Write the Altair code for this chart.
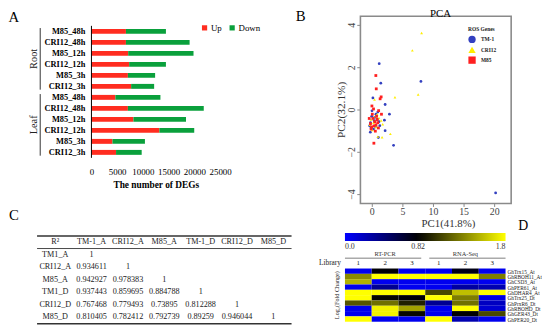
import altair as alt
import pandas as pd

SERIF = "Liberation Serif"
RED = "#FF2D20"
GREEN = "#0AA03C"

# ---------------- data ----------------
# Panel A: DEGs
a_tissue = ["Root"] * 6 + ["Leaf"] * 6
a_sample = ["M85_48h", "CRI12_48h", "M85_12h", "CRI12_12h", "M85_3h", "CRI12_3h"] * 2
a_up = [6700, 6700, 7140, 7330, 7080, 7710, 4650, 7080, 8160, 13200, 4080, 4780]
a_down = [7770, 12370, 12690, 7140, 5290, 4470, 8750, 14740, 10210, 6770, 6310, 4980]
a_ticks = [0, 5000, 10000, 15000, 20000, 25000]

# Panel B: PCA
b_groups = ["TM-1", "CRI12", "M85"]
tm1_x = [1.13, 1.39, 7.95, 0.10, 2.10, 2.80, 1.98, 1.23, 2.10, 3.48, 0.99, -0.32, -0.05, 20.16,
         0.30, -0.30, 0.55, 0.80, -0.10, 0.60, 0.20, 0.90, -0.45, 0.40, 1.10, -0.20]
tm1_y = [2.19, 1.27, 1.35, 0.57, 0.26, -0.20, -0.48, -0.74, -0.98, -1.67, -1.30, -1.05, -0.04, -3.92,
         -0.50, -0.60, -0.80, -0.45, -0.30, -0.20, -0.90, -0.10, -0.75, -0.35, -0.55, -0.85]
cri_x = [8.06, 6.55, 7.50, 3.70, 0.37, 2.95, 1.60, 0.90, 1.70, 1.45, 1.10, 0.20, -0.20, 0.60, 0.00,
         0.80, -0.40, 0.50]
cri_y = [3.64, 2.82, 0.73, 0.60, 0.50, -1.13, -1.29, -1.26, -0.67, -0.50, -0.38, -0.60, -0.45, -0.80,
         -0.95, -0.20, -0.70, -0.30]
m85_x = [0.58, 0.65, 1.45, 1.28, -0.06, 0.26, 1.00, 1.04, 1.50, 0.10, 0.40, -0.30, 0.70, -0.20, 0.30,
         0.90, -0.50, 0.00, 0.50, 0.20, -0.10, 0.80, 0.60]
m85_y = [1.63, 1.00, 0.62, 0.53, 0.19, -1.57, -0.85, -0.03, -0.20, -0.40, -0.55, -0.65, -0.30, -0.90,
         -0.75, -0.60, -0.40, -0.20, -1.00, 0.05, -0.80, -0.45, -0.70]
b_xticks = [0, 5, 10, 15, 20]
b_yticks = [-4, -2, 0, 2, 4]

# Panel C: correlation table
c_header = ["R²", "TM-1_A", "CRI12_A", "M85_A", "TM-1_D", "CRI12_D", "M85_D"]
c_rows = ["TM1_A", "CRI12_A", "M85_A", "TM1_D", "CRI12_D", "M85_D"]
c_values = [
    [1],
    [0.934611, 1],
    [0.942927, 0.978383, 1],
    [0.937443, 0.859695, 0.884788, 1],
    [0.767468, 0.779493, 0.73895, 0.812288, 1],
    [0.810405, 0.782412, 0.792739, 0.89259, 0.946044, 1],
]

# Panel D: heatmap
d_genes = ["GhTrx15_At", "GhRBOH11_At", "GhCSD3_At", "GhPER61_At", "GhDHAR4_At",
           "GhTrx25_Dt", "GhPrxR6_Dt", "GhRBOHD_Dt", "GhGER43_Dt", "GhPER20_Dt"]
d_cols = ["1", "2", "3", "1", "2", "3"]
d_groups = ["RT-PCR", "RNA-Seq"]
d_values = [
    [0.05, 0.80, 0.05, 0.05, 0.75, 0.05],
    [1.35, 1.80, 1.80, 1.80, 1.80, 1.30],
    [1.50, 0.05, 0.05, 0.05, 0.05, 0.05],
    [0.05, 0.35, 0.05, 0.05, 0.30, 0.25],
    [1.80, 1.80, 1.80, 1.10, 1.55, 1.80],
    [1.80, 0.85, 0.80, 1.80, 1.30, 0.10],
    [1.15, 1.25, 0.95, 0.35, 1.25, 0.20],
    [0.05, 1.75, 1.45, 0.05, 1.80, 0.15],
    [0.05, 1.75, 0.85, 0.05, 0.82, 1.10],
    [1.80, 0.05, 0.05, 1.80, 0.25, 0.05],
]
d_legend = [0.0, 0.82, 1.8]

# ---------------- geometry (chart coords = page - 16) ----------------
W, H = 534, 315


def P(v):
    return v - 16


A_XR = [P(92.7), P(223.3)]
A_YR = [P(18.7), P(162.7)]
B_XR = [P(365.7), P(518.7)]
B_YR = [P(204), P(14)]
B_XD = [-1.94, 22.7]
B_YD = [-4.42, 4.43]
C_XR = [P(37.5), P(295.8)]
C_YR = [P(237), P(326)]
D_XR = [P(350), P(513)]
D_YR = [P(270), P(324)]


def label(text, x, y, size=14, weight="normal", angle=0, color="black", align="center"):
    return alt.Chart(pd.DataFrame({"t": [text]})).mark_text(
        font=SERIF, fontSize=size, fontWeight=weight, angle=angle, color=color,
        align=align, baseline="middle"
    ).encode(x=alt.value(P(x)), y=alt.value(P(y)), text="t:N")


# ---------------- Panel A ----------------
rowsA = []
for i, (s, u, d) in enumerate(zip(a_sample, a_up, a_down)):
    rowsA.append({"idx": i, "type": "Up", "start": 0, "end": u})
    rowsA.append({"idx": i, "type": "Down", "start": u, "end": u + d})
dfA = pd.DataFrame(rowsA)

a_xs = alt.Scale(domain=[0, 25000], range=A_XR, nice=False, zero=False)
a_ys = alt.Scale(domain=[-0.5, len(a_sample) - 0.5], range=A_YR, nice=False, zero=False)

barsA = alt.Chart(dfA).mark_bar(size=5, orient="horizontal").encode(
    x=alt.X("start:Q", scale=a_xs, stack=None, axis=alt.Axis(
        orient="bottom", offset=A_YR[1] - H, values=a_ticks, format="d", ticks=False,
        domain=False, grid=False, labelFont=SERIF, labelFontSize=9, labelColor="black",
        labelPadding=5, labelFlush=False, title="The number of DEGs", titleFont=SERIF,
        titleFontSize=9.5, titleFontWeight="bold", titleColor="black", titlePadding=3)),
    x2="end:Q",
    y=alt.Y("idx:Q", scale=a_ys, axis=None),
    color=alt.Color("type:N", scale=alt.Scale(domain=["Up", "Down"], range=[RED, GREEN]),
                    legend=alt.Legend(orient="none", legendX=P(203), legendY=P(21),
                                      direction="horizontal", title=None, symbolType="square",
                                      symbolSize=28, symbolStrokeWidth=0, labelFont=SERIF,
                                      labelFontSize=9, labelColor="black", columnPadding=6,
                                      labelOffset=2)),
)
dfAl = pd.DataFrame({"idx": list(range(len(a_sample))), "sample": a_sample})
labA = alt.Chart(dfAl).mark_text(font=SERIF, fontSize=8.5, fontWeight="bold", color="black",
                                 align="right", baseline="middle").encode(
    x=alt.value(P(86.5)), y=alt.Y("idx:Q", scale=a_ys, axis=None), text="sample:N")
axA = alt.Chart(pd.DataFrame({"y0": [-0.5], "y1": [len(a_sample) - 0.5]})).mark_rule(
    color="black", strokeWidth=1).encode(
    x=alt.value(P(92.7)), y=alt.Y("y0:Q", scale=a_ys, axis=None), y2="y1:Q")

tissues = []
for t in ["Root", "Leaf"]:
    idxs = [i for i, v in enumerate(a_tissue) if v == t]
    tissues.append({"tissue": t, "y0": idxs[0] - 0.3, "y1": idxs[-1] + 0.3,
                    "mid": (idxs[0] + idxs[-1]) / 2})
dfT = pd.DataFrame(tissues)
brA = alt.Chart(dfT).mark_rule(color="#333", strokeWidth=1).encode(
    x=alt.value(P(40.7)), y=alt.Y("y0:Q", scale=a_ys, axis=None), y2="y1:Q")
tA = alt.Chart(dfT).mark_text(angle=270, font=SERIF, fontSize=10.5, color="#222",
                              baseline="middle").encode(
    x=alt.value(P(34.5)), y=alt.Y("mid:Q", scale=a_ys, axis=None), text="tissue:N")
panelA = alt.layer(barsA, axA, labA, brA, tA)

# ---------------- Panel B ----------------
dfB = pd.concat([
    pd.DataFrame({"geno": "TM-1", "pc1": tm1_x, "pc2": tm1_y}),
    pd.DataFrame({"geno": "CRI12", "pc1": cri_x, "pc2": cri_y}),
    pd.DataFrame({"geno": "M85", "pc1": m85_x, "pc2": m85_y}),
], ignore_index=True)
b_xs = alt.Scale(domain=B_XD, range=B_XR, nice=False, zero=False)
b_ys = alt.Scale(domain=B_YD, range=B_YR, nice=False, zero=False)
legB = alt.Legend(orient="none", legendX=P(475), legendY=P(25), title="ROS Genes",
                  titleFont=SERIF, titleFontSize=5.5, titleFontWeight="bold", titleColor="#222",
                  labelFont=SERIF, labelFontSize=5.5, labelFontWeight="bold", labelColor="#222",
                  symbolSize=55, symbolStrokeWidth=0, rowPadding=2.5, labelOffset=5,
                  titlePadding=3)
ptsB = alt.Chart(dfB).mark_point(filled=True, size=8, opacity=1).encode(
    x=alt.X("pc1:Q", scale=b_xs, axis=None),
    y=alt.Y("pc2:Q", scale=b_ys, axis=None),
    color=alt.Color("geno:N", scale=alt.Scale(domain=b_groups,
                                              range=["#3340C0", "#FFEE00", "#FF2020"]),
                    legend=legB),
    shape=alt.Shape("geno:N", scale=alt.Scale(domain=b_groups,
                                              range=["circle", "triangle-up", "square"]),
                    legend=legB),
)
frameB = alt.Chart(pd.DataFrame({"x0": [B_XD[0]], "x1": [B_XD[1]], "y0": [B_YD[0]],
                                 "y1": [B_YD[1]]})).mark_rect(
    fillOpacity=0, stroke="#8a8a8a", strokeWidth=1.6).encode(
    x=alt.X("x0:Q", scale=b_xs, axis=None), x2="x1:Q",
    y=alt.Y("y0:Q", scale=b_ys, axis=None), y2="y1:Q")
dfBx = pd.DataFrame({"v": b_xticks})
dfBy = pd.DataFrame({"v": b_yticks})
xtB = alt.Chart(dfBx).mark_rule(color="#888", strokeWidth=1).encode(
    x=alt.X("v:Q", scale=b_xs, axis=None), y=alt.value(P(204.5)), y2=alt.value(P(207.5)))
xlB = alt.Chart(dfBx).mark_text(font=SERIF, fontSize=10, color="#444",
                                baseline="middle").encode(
    x=alt.X("v:Q", scale=b_xs, axis=None), y=alt.value(P(212.5)), text="v:Q")
ytB = alt.Chart(dfBy).mark_rule(color="#888", strokeWidth=1).encode(
    y=alt.Y("v:Q", scale=b_ys, axis=None), x=alt.value(P(362.5)), x2=alt.value(P(365.5)))
ylB = alt.Chart(dfBy).mark_text(font=SERIF, fontSize=10, color="#444", angle=270,
                                baseline="middle").encode(
    y=alt.Y("v:Q", scale=b_ys, axis=None), x=alt.value(P(357)),
    text=alt.Text("v:Q", format="d"))
panelB = alt.layer(frameB, xtB, xlB, ytB, ylB, ptsB)

# ---------------- Panel C ----------------
cells = []
for j, h in enumerate(c_header):
    cells.append({"col": j, "row": 0, "txt": h})
for r, (name, vals) in enumerate(zip(c_rows, c_values)):
    cells.append({"col": 0, "row": r + 1, "txt": name})
    for j, v in enumerate(vals):
        cells.append({"col": j + 1, "row": r + 1, "txt": "%g" % v})
dfC = pd.DataFrame(cells)
n_c = len(c_header)
c_xs = alt.Scale(domain=[-0.5, n_c - 0.5], range=C_XR, nice=False, zero=False)
c_ys = alt.Scale(domain=[-0.5, len(c_rows) + 0.5], range=C_YR, nice=False, zero=False)
txtC = alt.Chart(dfC).mark_text(font=SERIF, fontSize=8.3, color="#222", baseline="middle").encode(
    x=alt.X("col:Q", scale=c_xs, axis=None), y=alt.Y("row:Q", scale=c_ys, axis=None),
    text="txt:N")
thick = alt.Chart(pd.DataFrame({"x0": [-0.5, -0.5], "x1": [n_c - 0.5, n_c - 0.5],
                                "yy": [-0.5, len(c_rows) + 0.5]})).mark_rule(
    color="#333", strokeWidth=1.6).encode(
    x=alt.X("x0:Q", scale=c_xs, axis=None), x2="x1:Q", y=alt.Y("yy:Q", scale=c_ys, axis=None))
thin = alt.Chart(pd.DataFrame({"x0": [-0.5], "x1": [n_c - 0.5], "yy": [0.5]})).mark_rule(
    color="#333", strokeWidth=0.9).encode(
    x=alt.X("x0:Q", scale=c_xs, axis=None), x2="x1:Q", y=alt.Y("yy:Q", scale=c_ys, axis=None))
panelC = alt.layer(thick, thin, txtC)

# ---------------- Panel D ----------------
cellsD = []
for r, (g, vals) in enumerate(zip(d_genes, d_values)):
    for c, v in enumerate(vals):
        cellsD.append({"r0": r, "r1": r + 1, "c0": c, "c1": c + 1, "val": v})
dfD = pd.DataFrame(cellsD)
n_d = len(d_cols)
d_xs = alt.Scale(domain=[0, n_d], range=D_XR, nice=False, zero=False)
d_ys = alt.Scale(domain=[0, len(d_genes)], range=D_YR, nice=False, zero=False)
g_expr = "[" + ",".join("'%s'" % g for g in d_genes) + "][floor(datum.value)]"
heat = alt.Chart(dfD).mark_rect(strokeWidth=0).encode(
    x=alt.X("c0:Q", scale=d_xs, axis=None), x2="c1:Q",
    y=alt.Y("r0:Q", scale=d_ys, axis=alt.Axis(
        orient="right", offset=D_XR[1] - W, values=[r + 0.5 for r in range(len(d_genes))],
        labelExpr=g_expr, ticks=False, domain=False, grid=False, labelFont=SERIF,
        labelFontSize=5.4, labelColor="#222", labelPadding=1.5, labelFlush=False,
        labelOverlap=False, title=None)),
    y2="r1:Q",
    color=alt.Color("val:Q", scale=alt.Scale(domain=d_legend,
                                             range=["#0000FF", "#000000", "#FFFF00"],
                                             interpolate="rgb"),
                    legend=alt.Legend(orient="none", direction="horizontal", legendX=P(350),
                                      legendY=P(234), gradientLength=163, gradientThickness=8,
                                      gradientStrokeWidth=0, title=None, values=d_legend,
                                      labelExpr="datum.value == 0 ? '0.0' : format(datum.value, '.2~f')",
                                      labelFont=SERIF, labelFontSize=8, labelColor="#333",
                                      labelOffset=2)),
)
dfCols = pd.DataFrame({"pos": [i + 0.5 for i in range(n_d)], "lab": d_cols})
colLab = alt.Chart(dfCols).mark_text(font=SERIF, fontSize=7, color="#222",
                                     baseline="middle").encode(
    x=alt.X("pos:Q", scale=d_xs, axis=None), y=alt.value(P(264.5)), text="lab:N")
per = n_d // len(d_groups)
dfG = pd.DataFrame({"name": d_groups,
                    "mid": [k * per + per / 2 for k in range(len(d_groups))],
                    "s": [k * per + (0.0 if k == 0 else 0.15) for k in range(len(d_groups))],
                    "e": [(k + 1) * per - (0.15 if k < len(d_groups) - 1 else 0.0)
                          for k in range(len(d_groups))]})
grpTxt = alt.Chart(dfG).mark_text(font=SERIF, fontSize=6.5, color="#333",
                                  baseline="middle").encode(
    x=alt.X("mid:Q", scale=d_xs, axis=None), y=alt.value(P(255)), text="name:N")
grpLine = alt.Chart(dfG).mark_rule(color="#aaa", strokeWidth=1.5).encode(
    x=alt.X("s:Q", scale=d_xs, axis=None), x2="e:Q", y=alt.value(P(259.5)))
panelD = alt.layer(heat, colLab, grpTxt, grpLine)

# ---------------- assemble ----------------
chart = alt.layer(
    panelA, panelB, panelC, panelD,
    label("A", 14, 15, size=15),
    label("B", 305, 14, size=15),
    label("PCA", 447, 12, size=11),
    label("C", 14, 216, size=15),
    label("D", 531, 227, size=14),
    label("PC1(41.8%)", 455, 225, size=11, color="#333"),
    label("PC2(32.1%)", 347.5, 109, size=11.5, angle=270, color="#333"),
    label("Library", 346, 264.5, size=7.5, align="right", color="#222"),
    label("Log₂(Fold Change)", 342, 297, size=6.3, angle=270, color="#222"),
).resolve_scale(
    x="independent", y="independent", color="independent", shape="independent"
).resolve_axis(
    x="independent", y="independent"
).resolve_legend(
    color="independent", shape="independent"
).properties(
    width=W, height=H, autosize=alt.AutoSizeParams(type="none"),
    padding={"left": 8, "top": 8, "right": 0, "bottom": 0}
).configure_view(stroke=None)

chart.save("out.html", embed_options={"renderer": "svg", "actions": False})
